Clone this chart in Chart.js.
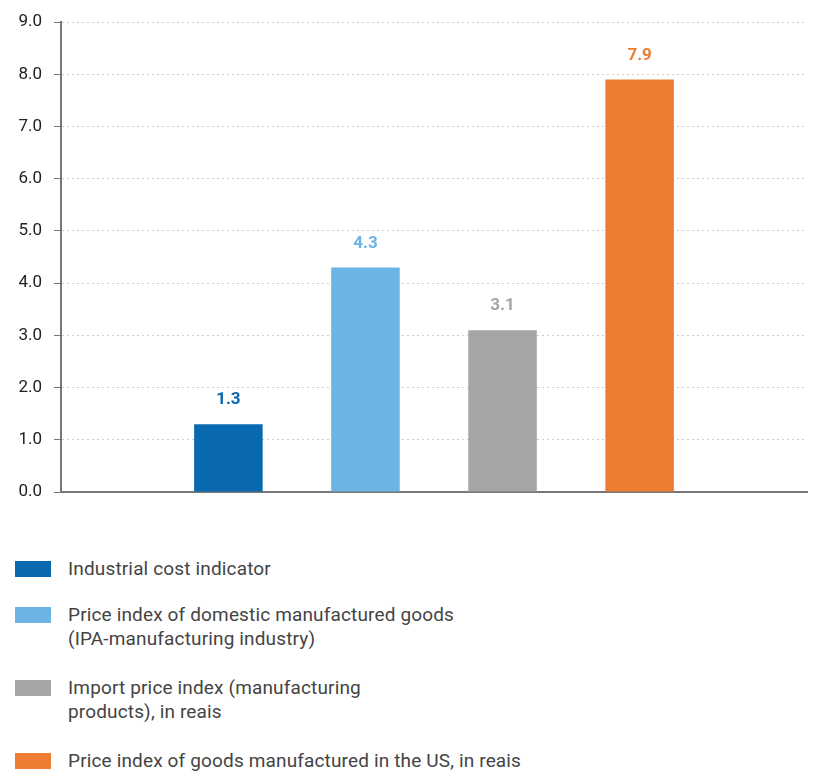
<!DOCTYPE html>
<html>
<head>
<meta charset="utf-8">
<script src="https://cdn.jsdelivr.net/npm/chart.js@4"></script>
<style>
  body { margin: 0; background: #fff; font-family: Roboto, sans-serif; }
  #wrap { position: relative; width: 814px; height: 771px; }
  #chartBox { position: absolute; left: 0; top: 0; width: 814px; height: 520px; }
  #legend { position: absolute; left: 15px; top: 557px; color: #444; font-size: 19px; line-height: 24px; letter-spacing: 0.15px; }
  .item { display: flex; align-items: flex-start; }
  .box { width: 36px; height: 16px; margin-top: 4px; margin-right: 17px; flex: none; }
</style>
</head>
<body>
<div id="wrap">
  <div id="chartBox"><canvas id="costChart"></canvas></div>
  <div id="legend"></div>
</div>
<script>
const seriesNames = [
  ['Industrial cost indicator'],
  ['Price index of domestic manufactured goods', '(IPA-manufacturing industry)'],
  ['Import price index (manufacturing', 'products), in reais'],
  ['Price index of goods manufactured in the US, in reais']
];
const seriesValues = [1.3, 4.3, 3.1, 7.9];
const seriesColors = ['#0868B0', '#6CB4E4', '#A5A5A5', '#ED7D31'];
const yTicks = [0, 1, 2, 3, 4, 5, 6, 7, 8, 9];

// legend gaps between items (px, top margins)
const legendGaps = [0, 22, 25, 25];

const legend = document.getElementById('legend');
seriesNames.forEach((lines, i) => {
  const row = document.createElement('div');
  row.className = 'item';
  row.style.marginTop = legendGaps[i] + 'px';
  row.innerHTML = `<span class="box" style="background:${seriesColors[i]}"></span><span>${lines.join('<br>')}</span>`;
  legend.appendChild(row);
});

const valueLabels = {
  id: 'valueLabels',
  afterDatasetsDraw(chart) {
    const ctx = chart.ctx;
    ctx.save();
    ctx.font = 'bold 17px Roboto';
    ctx.textAlign = 'center';
    ctx.textBaseline = 'middle';
    chart.data.datasets.forEach((ds, i) => {
      const bar = chart.getDatasetMeta(i).data[0];
      ctx.fillStyle = seriesColors[i];
      ctx.fillText(ds.data[0].toFixed(1), bar.x, bar.y - 24);
    });
    ctx.restore();
  }
};

const ctx = document.getElementById('costChart').getContext('2d');
new Chart(ctx, {
  type: 'bar',
  data: {
    labels: [''],
    datasets: seriesValues.map((v, i) => ({
      label: seriesNames[i].join(' '),
      data: [v],
      backgroundColor: seriesColors[i],
      categoryPercentage: 0.735,
      barPercentage: 0.5
    }))
  },
  options: {
    responsive: true,
    maintainAspectRatio: false,
    animation: false,
    layout: { padding: { top: 15, right: 7, bottom: 20, left: 0 } },
    plugins: { legend: { display: false }, tooltip: { enabled: false } },
    scales: {
      x: {
        ticks: { display: false },
        grid: { display: false },
        border: { display: true, color: '#777', width: 2 }
      },
      y: {
        min: 0,
        max: 9,
        afterBuildTicks: (scale) => { scale.ticks = yTicks.map(v => ({ value: v })); },
        afterFit: (scale) => { scale.width = 61; },
        ticks: {
          padding: 12,
          color: '#222',
          font: { family: 'Roboto', size: 17 },
          callback: (v) => v.toFixed(1)
        },
        grid: {
          color: '#ccc',
          tickColor: '#777',
          tickLength: 7,
          tickBorderDash: [],
          lineWidth: 1
        },
        border: { display: true, color: '#777', width: 2, dash: [2, 3] }
      }
    }
  },
  plugins: [valueLabels]
});
</script>
</body>
</html>
